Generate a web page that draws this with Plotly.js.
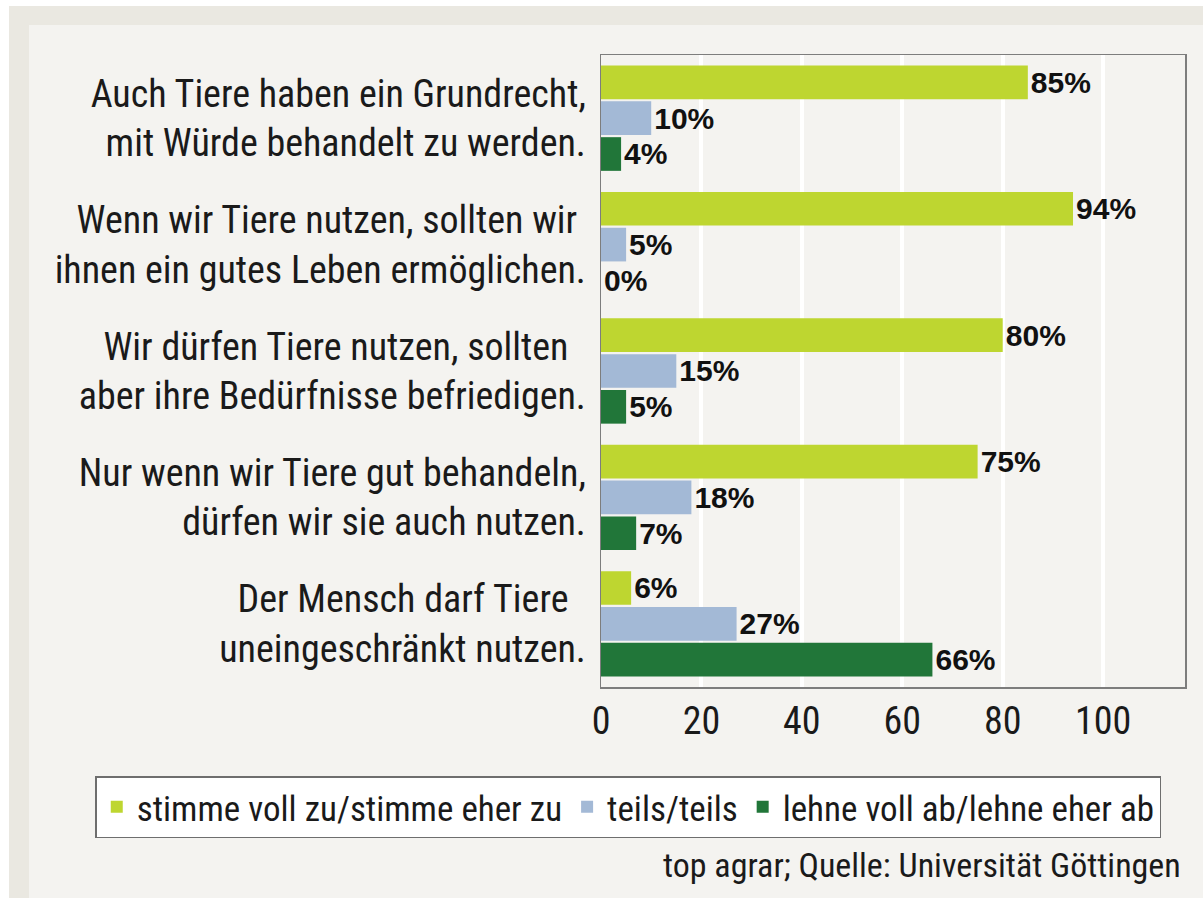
<!DOCTYPE html>
<html>
<head>
<meta charset="utf-8">
<script src="https://cdn.plot.ly/plotly-3.0.1.min.js"></script>
<style>
  html, body { margin: 0; padding: 0; background: #ffffff; }
  #frame { position: absolute; left: 9px; top: 6px; width: 1194px; height: 892px;
           background: #eae8e1; }
  #panel { position: absolute; left: 29px; top: 25px; width: 1174px; height: 873px;
           background: #f4f3f0; }
  #chart { position: absolute; left: 0; top: 0; width: 1203px; height: 898px; }
</style>
</head>
<body>
<div id="frame"></div>
<div id="panel"></div>
<div id="chart"></div>
<script>
// ---- data ----
const categories = [
  "Auch Tiere haben ein Grundrecht,<br>mit Würde behandelt zu werden.",
  "Wenn wir Tiere nutzen, sollten wir <br>ihnen ein gutes Leben ermöglichen.",
  "Wir dürfen Tiere nutzen, sollten  <br>aber ihre Bedürfnisse befriedigen.",
  "Nur wenn wir Tiere gut behandeln,<br>dürfen wir sie auch nutzen.",
  "Der Mensch darf Tiere  <br>uneingeschränkt nutzen."
];
const seriesNames = ["stimme voll zu/stimme eher zu", "teils/teils", "lehne voll ab/lehne eher ab"];
const zustimmung = [85, 94, 80, 75, 6];
const teils = [10, 5, 15, 18, 27];
const ablehnung = [4, 0, 5, 7, 66];
const tickValues = [0, 20, 40, 60, 80, 100];
const tickLabels = ["0", "20", "40", "60", "80", "100"];
const sourceText = "top agrar; Quelle: Universität Göttingen";

const colors = ["#bed630", "#a3b9d6", "#217639"];
const FONT = "'Liberation Sans Narrow', 'Arial Narrow', 'Roboto Condensed', 'DejaVu Sans Condensed', sans-serif";
const LABEL_FONT = "'Liberation Sans', Arial, sans-serif";

const seriesValues = [zustimmung, teils, ablehnung];
const traces = seriesValues.map((vals, i) => ({
  type: "bar",
  orientation: "h",
  name: seriesNames[i],
  y: categories,
  x: vals,
  marker: { color: colors[i] },
  text: vals.map(v => v + "%"),
  textposition: "outside",
  cliponaxis: false,
  textfont: { family: LABEL_FONT, size: 33, color: "#111111", weight: "bold" },
  hoverinfo: "x+name"
}));

const layout = {
  width: 1203,
  height: 898,
  paper_bgcolor: "rgba(0,0,0,0)",
  plot_bgcolor: "#f4f3f0",
  margin: { l: 601, r: 18, t: 55, b: 211, pad: 0 },
  barmode: "group",
  bargap: 0.15,
  bargroupgap: 0.06,
  constraintext: "none",
  font: { family: FONT, color: "#1a1a1a" },
  xaxis: {
    range: [0, 116.3],
    tickvals: tickValues,
    ticktext: tickLabels,
    tickfont: { family: FONT, size: 38, color: "#1a1a1a" },
    ticks: "",
    ticklabelstandoff: 0,
    showgrid: true,
    gridcolor: "#ffffff",
    gridwidth: 4,
    zeroline: false,
    showline: true,
    mirror: true,
    linecolor: "#7d7d7d",
    linewidth: 1.5,
    fixedrange: true
  },
  yaxis: {
    type: "category",
    autorange: "reversed",
    tickfont: { family: FONT, size: 38, color: "#1a1a1a" },
    ticks: "",
    ticklabelstandoff: 6,
    showgrid: false,
    zeroline: false,
    showline: true,
    mirror: true,
    linecolor: "#7d7d7d",
    linewidth: 1.5,
    fixedrange: true
  },
  showlegend: true,
  legend: {
    orientation: "h",
    x: -0.866,
    xanchor: "left",
    y: -0.141,
    yanchor: "top",
    bgcolor: "#ffffff",
    bordercolor: "#6e6e6e",
    borderwidth: 1.5,
    font: { family: FONT, size: 35, color: "#1a1a1a" },
    traceorder: "normal",
    itemclick: false,
    itemdoubleclick: false
  },
  annotations: [{
    text: sourceText,
    xref: "paper", yref: "paper",
    x: 0.9966, y: -0.282,
    xanchor: "right", yanchor: "middle",
    showarrow: false,
    font: { family: FONT, size: 34, color: "#1a1a1a" }
  }]
};

Plotly.newPlot("chart", traces, layout, { displayModeBar: false, staticPlot: true });
</script>
</body>
</html>
